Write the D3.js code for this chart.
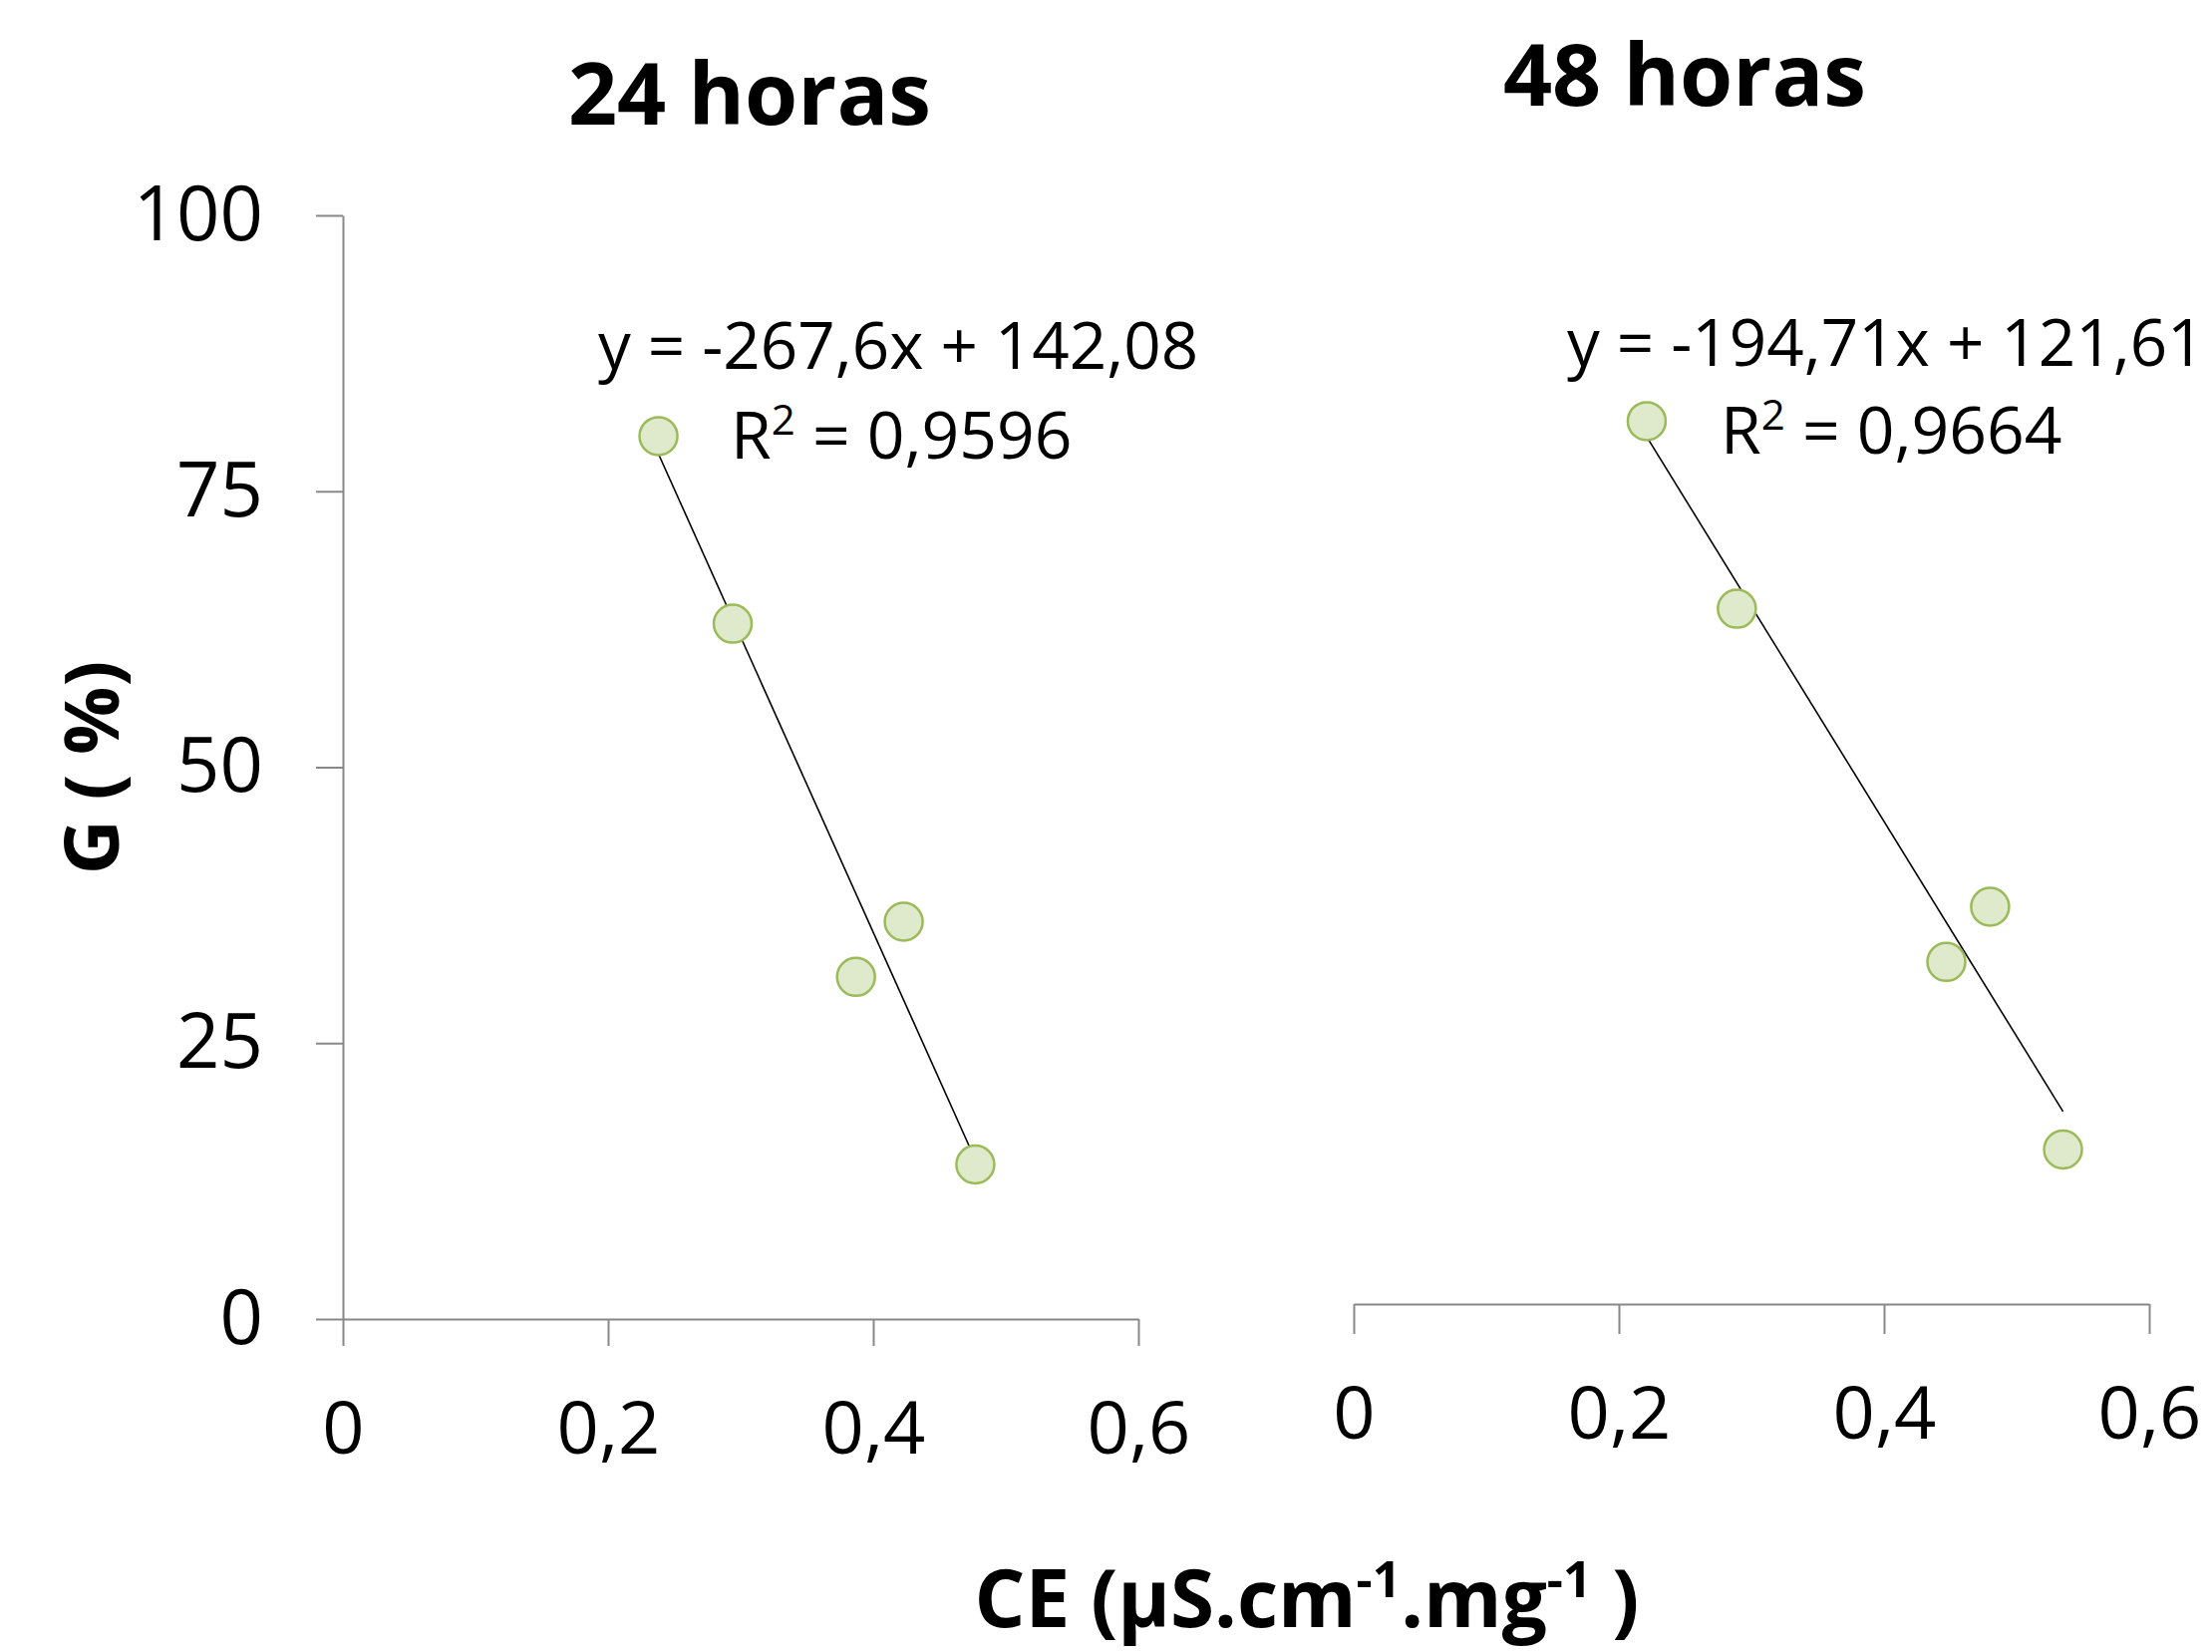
<!DOCTYPE html>
<meta charset="utf-8">
<head>
  <style>
    body { margin: 0; background: #fff; }
    svg { font-family: 'Open Sans', 'DejaVu Sans', sans-serif; }
  </style>
  <script src="https://d3js.org/d3.v7.min.js"></script>
</head>
<body>
  <div id="chart"></div>
  <script>

    // Data
    const ce24 = [0.238, 0.294, 0.387, 0.423, 0.477];
    const germ24 = [80, 63, 31, 36, 14];
    const ce48 = [0.221, 0.289, 0.447, 0.480, 0.535];
    const germ48 = [80, 63, 31, 36, 14];

    // trendline coefficients as printed in the chart
    const fit24 = { slope: -267.6, intercept: 142.08, label: "y = -267,6x + 142,08", r2: "0,9596" };
    const fit48 = { slope: -194.71, intercept: 121.61, label: "y = -194,71x + 121,61", r2: "0,9664" };

    const xTicks = [0, 0.2, 0.4, 0.6];
    const yTicks = [0, 25, 50, 75, 100];
    const panelTitles = ["24 horas", "48 horas"];

    const W = 2219, H = 1657;
    const ptBr = d3.formatLocale({ decimal: ",", thousands: ".", grouping: [3], currency: ["R$", ""] });
    const fmtX = d => d === 0 ? "0" : ptBr.format(".1f")(d);

    const svg = d3.select("#chart").append("svg")
      .attr("width", W).attr("height", H);

    // panel layout
    const panels = [
      { x0: 344, x1: 1142, yBase: 1323, tick: 27, showY: true, ce: ce24, g: germ24, fit: fit24, title: panelTitles[0],
        titleX: 752, titleY: 125, eqX: 600, eqY: 370, r2X: 733, r2Y: 460 },
      { x0: 1358, x1: 2156, yBase: 1308, tick: 30, showY: false, ce: ce48, g: germ48, fit: fit48, title: panelTitles[1],
        titleX: 1690, titleY: 106, eqX: 1572, eqY: 367, r2X: 1726, r2Y: 455 }
    ];

    panels.forEach(p => {
      const x = d3.scaleLinear().domain([0, 0.6]).range([p.x0, p.x1]);
      const y = d3.scaleLinear().domain([0, 100]).range([p.yBase, p.yBase - 1107]);

      // x axis
      const xa = svg.append("g")
        .attr("transform", `translate(0,${p.yBase})`)
        .call(d3.axisBottom(x).tickValues(xTicks).tickFormat(fmtX)
          .tickSize(p.tick).tickSizeOuter(0).tickPadding(135 - 0.71 * 74 - p.tick));
      xa.selectAll("path,line").attr("stroke", "#888").attr("stroke-width", 2);
      xa.selectAll("text").attr("font-size", 74).attr("fill", "#000")
        .attr("font-family", "'Open Sans', sans-serif");

      // y axis (only on first panel)
      if (p.showY) {
        const ya = svg.append("g")
          .attr("transform", `translate(${p.x0},0)`)
          .call(d3.axisLeft(y).tickValues(yTicks).tickSize(27).tickSizeOuter(0).tickPadding(53));
        ya.selectAll("path,line").attr("stroke", "#888").attr("stroke-width", 2);
        ya.selectAll("text").attr("font-size", 76).attr("fill", "#000")
          .attr("font-family", "'Open Sans', sans-serif");
      }

      // trendline
      const xmin = d3.min(p.ce), xmax = d3.max(p.ce);
      svg.append("line")
        .attr("x1", x(xmin)).attr("y1", y(p.fit.slope * xmin + p.fit.intercept))
        .attr("x2", x(xmax)).attr("y2", y(p.fit.slope * xmax + p.fit.intercept))
        .attr("stroke", "#000").attr("stroke-width", 1.6);

      // points
      svg.append("g").selectAll("circle")
        .data(p.ce.map((c, i) => ({ c: c, g: p.g[i] })))
        .join("circle")
        .attr("cx", d => x(d.c))
        .attr("cy", d => y(d.g))
        .attr("r", 19)
        .attr("fill", "#dfe9cc")
        .attr("stroke", "#9bbb59")
        .attr("stroke-width", 2.5);

      // equation + R²
      svg.append("text")
        .attr("x", p.eqX).attr("y", p.eqY)
        .attr("font-size", 65.5)
        .text(p.fit.label);
      const r2 = svg.append("text")
        .attr("x", p.r2X).attr("y", p.r2Y)
        .attr("font-size", 66);
      r2.append("tspan").text("R");
      r2.append("tspan").attr("font-size", 42).attr("dy", -24).text("2");
      r2.append("tspan").attr("dy", 24).text(" = " + p.fit.r2);

      // panel title
      svg.append("text")
        .attr("x", p.titleX).attr("y", p.titleY)
        .attr("text-anchor", "middle")
        .attr("font-size", 86).attr("font-weight", "bold")
        .text(p.title);
    });

    // y axis title
    svg.append("text")
      .attr("transform", "translate(119,770) rotate(-90)")
      .attr("text-anchor", "middle")
      .attr("font-size", 76).attr("font-weight", "bold")
      .text("G ( %)");

    // x axis title
    const xt = svg.append("text")
      .attr("x", 1311).attr("y", 1632)
      .attr("text-anchor", "middle")
      .attr("font-size", 80).attr("font-weight", "bold");
    xt.append("tspan").text("CE (µS.cm");
    xt.append("tspan").attr("font-size", 50).attr("dy", -30).text("-1");
    xt.append("tspan").attr("dy", 30).text(".mg");
    xt.append("tspan").attr("font-size", 50).attr("dy", -30).text("-1");
    xt.append("tspan").attr("dy", 30).text(" )");

  </script>
</body>
